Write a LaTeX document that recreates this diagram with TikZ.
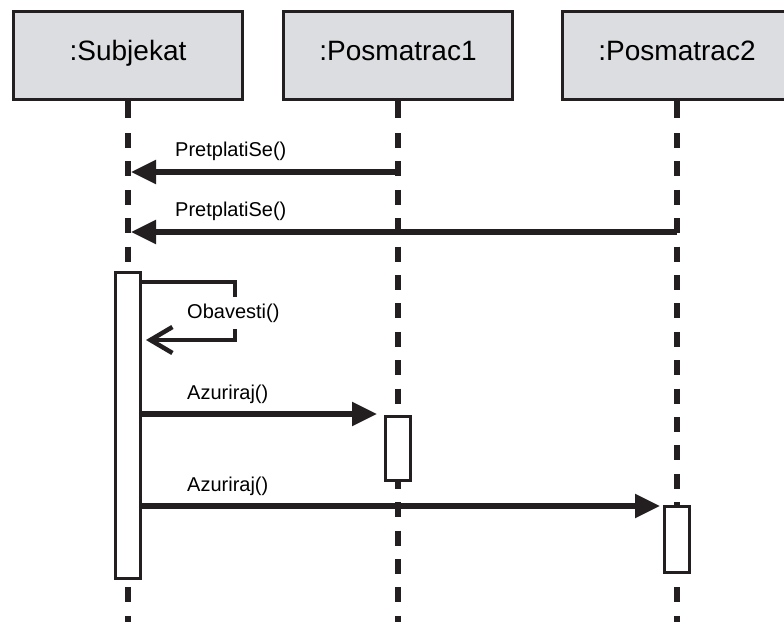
\documentclass[tikz,border=0pt]{standalone}
\usepackage{fontspec}
\setmainfont{Liberation Sans}
\usetikzlibrary{arrows.meta,positioning}
\definecolor{ink}{RGB}{35,31,32}
\definecolor{hdrgray}{RGB}{220,221,224}
\tikzset{
	header/.style={draw=ink,line width=3pt,fill=hdrgray,minimum width=229pt,minimum height=88pt,inner sep=0pt,text height=18pt,text depth=8pt,font=\fontsize{28}{30}\selectfont},
	stub/.style={ink,line width=6pt},
	lifeline/.style={ink,line width=6pt,dash pattern=on 15pt off 13.4pt},
	activ/.style={draw=ink,fill=white,line width=3pt,inner sep=0pt,minimum width=25pt,anchor=north},
	msg/.style={ink,line width=5.5pt,-{Triangle[length=25pt,width=23pt]}},
	selfmsg/.style={ink,line width=4.5pt,-{Straight Barb[length=22pt,width=26pt]}},
	lbl/.style={inner sep=0pt,anchor=base west,font=\fontsize{20}{22}\selectfont}
}
\begin{document}
\begin{tikzpicture}[x=1pt,y=-1pt,line join=miter]
	\useasboundingbox (0,0) rectangle (784,621);
	\fill[white] (0,0) rectangle (784,621);
	\clip (0,0) rectangle (784,621);
	%Zaglavlja
	\node[header] (subj) at (128,55.5) {:Subjekat};
	\node[header] (pos1) at (398,55.5) {:Posmatrac1};
	\node[header] (pos2) at (677,55.5) {:Posmatrac2};
	%Linije zivota
	\coordinate (subjEnd) at (128,625);
	\coordinate (pos1End) at (398,625);
	\coordinate (pos2End) at (677,625);
	\foreach \o in {subj,pos1,pos2}{
		\draw[stub] (\o.south) -- ++(0,17);
		\draw[lifeline] ([yshift=-32pt]\o.south) -- (\o End);
	}
	%Aktivacije
	\node[activ,minimum height=306pt] (subjAct) at (128,270.5) {};
	\node[activ,minimum height=64pt] (pos1Act) at (398,414.5) {};
	\node[activ,minimum height=66pt] (pos2Act) at (677,504.5) {};
	%Poruke
	\coordinate (m1) at (398,172);
	\coordinate (m2) at (677,232);
	\draw[msg] (m1) -- ([xshift=3pt]subj.south |- m1);
	\draw[msg] (m2) -- ([xshift=3pt]subj.south |- m2);
	\node[lbl] (lblM1) at (175,156) {PretplatiSe()};
	\node[lbl] (lblM2) at (175,216) {PretplatiSe()};
	\coordinate (selfTop) at (235,282);
	\coordinate (selfBot) at (235,340);
	\draw[selfmsg] (subjAct.east |- selfTop) -- (selfTop) -- (selfBot) -- ([xshift=4pt]subjAct.east |- selfBot);
	\node[lbl,fill=white,inner ysep=7pt] (lblSelf) at (187,318) {Obavesti()};
	\draw[msg,shorten >=7pt] (subjAct.east |- 0,414) -- (pos1Act.west |- 0,414);
	\node[lbl] (lblM3) at (187,399) {Azuriraj()};
	\draw[msg,shorten >=3pt] (subjAct.east |- 0,506) -- (pos2Act.west |- 0,506);
	\node[lbl] (lblM4) at (187,491) {Azuriraj()};
\end{tikzpicture}
\end{document}
